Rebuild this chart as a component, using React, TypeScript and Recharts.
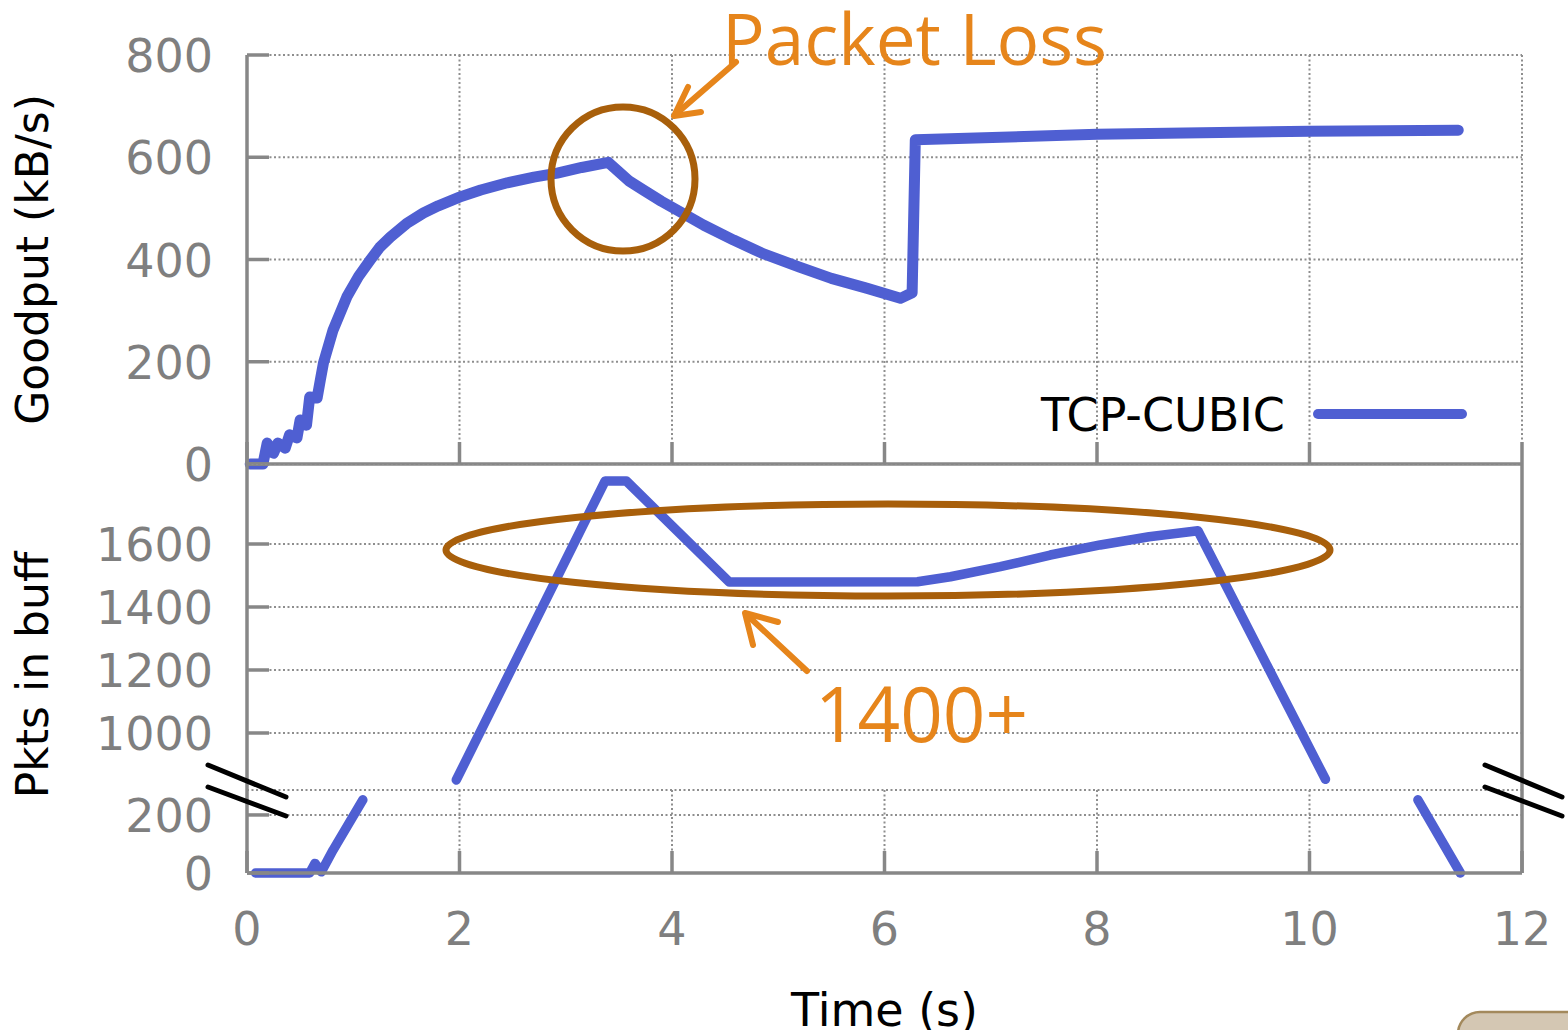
import { LineChart, Line, XAxis, YAxis, CartesianGrid, ReferenceLine, Legend, Label } from 'recharts'

// shared x axis
const timeTicks = [0, 2, 4, 6, 8, 10, 12]

// upper panel: goodput
const goodputTicks = [0, 200, 400, 600, 800]
const goodputTime = [
  0.03, 0.15, 0.19, 0.25, 0.29, 0.36, 0.4, 0.47, 0.5, 0.56, 0.59, 0.66, 0.69, 0.72, 0.81, 0.94,
  1.05, 1.16, 1.25, 1.35, 1.5, 1.66, 1.8, 2.0, 2.2, 2.45, 2.7, 2.92, 3.15, 3.4, 3.6, 3.73, 3.9,
  4.08, 4.3, 4.58, 4.85, 5.2, 5.5, 5.83, 6.15, 6.26, 6.29, 8.0, 10.0, 11.4,
]
const goodputValue = [
  0, 0, 41, 21, 41, 31, 57, 51, 86, 76, 131, 129, 164, 198, 262, 327,
  367, 399, 424, 444, 470, 491, 505, 522, 536, 550, 561, 569, 580, 590, 553, 536, 514,
  493, 467, 438, 412, 385, 363, 344, 324, 335, 634, 645, 651, 653,
]

// lower panel: packets in buffer (broken axis, high part and low part)
const pktsHighTicks = [1000, 1200, 1400, 1600]
const pktsLowTicks = [0, 200]
const pktsRiseTime = [0.08, 0.59, 0.64, 0.7, 0.81, 1.09]
const pktsRiseValue = [0, 0, 33, 4, 79, 252]
const pktsHighTime = [1.97, 3.37, 3.57, 4.54, 6.31, 6.62, 7.09, 7.56, 8.03, 8.49, 8.95, 10.15]
const pktsHighValue = [851, 1800, 1800, 1479, 1480, 1496, 1528, 1565, 1597, 1623, 1642, 853]
const pktsDrainTime = [11.02, 11.42]
const pktsDrainValue = [252, 0]

const zip = (ts: number[], vs: number[]) => ts.map((t, i) => ({ t, v: vs[i] }))

const BLUE = '#4f5fd2'
const AXIS = '#878787'
const GRID = '#8e8e8e'
const TICK_TEXT = '#7f7f7f'
const ORANGE = '#e6851b'
const BROWN = '#a85f0b'
const FONT = "'DejaVu Sans', sans-serif"

function LeftTick(props: any) {
  const { x, y, payload } = props
  return (
    <g>
      <line x1={x} x2={x + 22} y1={y} y2={y} stroke={AXIS} strokeWidth={3.5} />
      <text x={x - 34} y={y} dy={17} textAnchor="end" fontSize={46} fontFamily={FONT} fill={TICK_TEXT}>
        {payload.value}
      </text>
    </g>
  )
}

function MarkTick(props: any) {
  const { x, y } = props
  return <line x1={x} x2={x} y1={y} y2={y - 22} stroke={AXIS} strokeWidth={3.5} />
}

function TimeTick(props: any) {
  const { x, y, payload } = props
  return (
    <g>
      <line x1={x} x2={x} y1={y} y2={y - 22} stroke={AXIS} strokeWidth={3.5} />
      <text x={x} y={y + 55} dy={17} textAnchor="middle" fontSize={46} fontFamily={FONT} fill={TICK_TEXT}>
        {payload.value}
      </text>
    </g>
  )
}

const axisTitle = (text: string, x: number) => (props: any) => {
  const vb = props.viewBox
  const cy = vb.y + vb.height / 2
  return (
    <text x={x} y={cy} transform={`rotate(-90 ${x} ${cy})`} textAnchor="middle" fontSize={44} fontFamily={FONT} fill="#000">
      {text}
    </text>
  )
}

function LegendBox(props: any) {
  const name = props.payload?.[0]?.value ?? 'TCP-CUBIC'
  return (
    <svg width={450} height={60}>
      <text x={265} y={47} textAnchor="end" fontSize={46} fontFamily={FONT} fill="#000">
        {name}
      </text>
      <line x1={298} x2={442} y1={30} y2={30} stroke={BLUE} strokeWidth={10} strokeLinecap="round" />
    </svg>
  )
}

const lineProps = {
  type: 'linear' as const,
  dataKey: 'v',
  stroke: BLUE,
  strokeWidth: 9.5,
  dot: false,
  activeDot: false,
  strokeLinejoin: 'round' as const,
  strokeLinecap: 'round' as const,
  isAnimationActive: false,
}

const gridProps = { stroke: GRID, strokeWidth: 2, strokeDasharray: '2 2.5' }

const yAxisProps = {
  type: 'number' as const,
  width: 247,
  tickSize: 0,
  tickMargin: 0,
  tickLine: false,
  interval: 0 as const,
  axisLine: { stroke: AXIS, strokeWidth: 3.5 },
  tick: LeftTick,
}

export default function App() {
  return (
    <div style={{ position: 'absolute', left: 0, top: 0, width: 1568, height: 1030, overflow: 'hidden', background: '#fff' }}>
      {/* goodput panel */}
      <div style={{ position: 'absolute', left: 0, top: 0 }}>
        <LineChart width={1568} height={490} margin={{ top: 55, right: 46, bottom: 0, left: 0 }}>
          <CartesianGrid {...gridProps} />
          <XAxis
            dataKey="t"
            type="number"
            domain={[0, 12]}
            ticks={timeTicks}
            height={26}
            tickLine={false}
            tickSize={0}
            tickMargin={0}
            interval={0}
            axisLine={{ stroke: AXIS, strokeWidth: 3.5 }}
            tick={MarkTick}
          />
          <YAxis {...yAxisProps} domain={[0, 800]} ticks={goodputTicks}>
            <Label content={axisTitle('Goodput (kB/s)', 48)} />
          </YAxis>
          <Legend
            layout="vertical"
            align="center"
            verticalAlign="middle"
            content={LegendBox}
            wrapperStyle={{ left: 1020, top: 384, width: 450, height: 60 }}
          />
          <Line {...lineProps} strokeWidth={11} data={zip(goodputTime, goodputValue)} name="TCP-CUBIC" />
        </LineChart>
      </div>

      {/* packets panel, upper part of broken axis */}
      <div style={{ position: 'absolute', left: 0, top: 464 }}>
        <LineChart width={1568} height={326} margin={{ top: 0, right: 46, bottom: 0, left: 0 }}>
          <CartesianGrid vertical={false} {...gridProps} />
          <XAxis dataKey="t" type="number" domain={[0, 12]} ticks={timeTicks} hide />
          <YAxis {...yAxisProps} domain={[819, 1854]} ticks={pktsHighTicks} />
          <ReferenceLine x={12} stroke={AXIS} strokeWidth={3.5} />
          <Line {...lineProps} data={zip(pktsHighTime, pktsHighValue)} name="high" legendType="none" />
        </LineChart>
      </div>

      {/* packets panel, lower part of broken axis */}
      <div style={{ position: 'absolute', left: 0, top: 790 }}>
        <LineChart width={1568} height={240} margin={{ top: 0, right: 46, bottom: 0, left: 0 }}>
          <CartesianGrid {...gridProps} />
          <XAxis
            dataKey="t"
            type="number"
            domain={[0, 12]}
            ticks={timeTicks}
            height={157}
            tickLine={false}
            tickSize={0}
            tickMargin={0}
            interval={0}
            axisLine={{ stroke: AXIS, strokeWidth: 3.5 }}
            tick={TimeTick}
          >
            <Label value="Time (s)" position="insideBottom" offset={4} fill="#000" fontSize={46} fontFamily={FONT} />
          </XAxis>
          <YAxis {...yAxisProps} domain={[0, 286]} ticks={pktsLowTicks} />
          <ReferenceLine x={12} stroke={AXIS} strokeWidth={3.5} />
          <Line {...lineProps} data={zip(pktsRiseTime, pktsRiseValue)} name="rise" />
          <Line {...lineProps} data={zip(pktsDrainTime, pktsDrainValue)} name="drain" />
        </LineChart>
      </div>

      {/* annotations */}
      <svg width={1568} height={1030} style={{ position: 'absolute', left: 0, top: 0, pointerEvents: 'none' }}>
        <text x={48} y={675} transform="rotate(-90 48 675)" textAnchor="middle" fontSize={44} fontFamily={FONT} fill="#000">
          Pkts in buff
        </text>

        <circle cx={623} cy={179} r={72} fill="none" stroke={BROWN} strokeWidth={7} />
        <ellipse cx={888} cy={550} rx={442} ry={46} fill="none" stroke={BROWN} strokeWidth={7} />

        <text x={722} y={65} fontSize={72} fontFamily="'Open Sans', sans-serif" fill={ORANGE} textLength={385} lengthAdjust="spacingAndGlyphs">
          Packet Loss
        </text>
        <line x1={736} y1={62} x2={676} y2={114} stroke={ORANGE} strokeWidth={6} strokeLinecap="round" />
        <polyline points="688,87 674,116 701,112" fill="none" stroke={ORANGE} strokeWidth={6} strokeLinecap="round" strokeLinejoin="round" />

        <text x={815} y={742} fontSize={76} fontFamily="'Open Sans', sans-serif" fill={ORANGE} textLength={213} lengthAdjust="spacingAndGlyphs">
          1400+
        </text>
        <line x1={807} y1={671} x2={747} y2={615} stroke={ORANGE} strokeWidth={6} strokeLinecap="round" />
        <polyline points="753,645 745,613 778,622" fill="none" stroke={ORANGE} strokeWidth={6} strokeLinecap="round" strokeLinejoin="round" />

        {/* axis break marks */}
        <g stroke="#000" strokeWidth={5} strokeLinecap="round">
          <line x1={208} y1={765} x2={286} y2={797} />
          <line x1={208} y1={787} x2={286} y2={816} />
          <line x1={1485} y1={765} x2={1562} y2={797} />
          <line x1={1485} y1={787} x2={1562} y2={816} />
        </g>

        <rect x={1458} y={1012} width={140} height={60} rx={22} fill="#d4c7b3" stroke="#a3895c" strokeWidth={2.5} />
      </svg>
    </div>
  )
}
